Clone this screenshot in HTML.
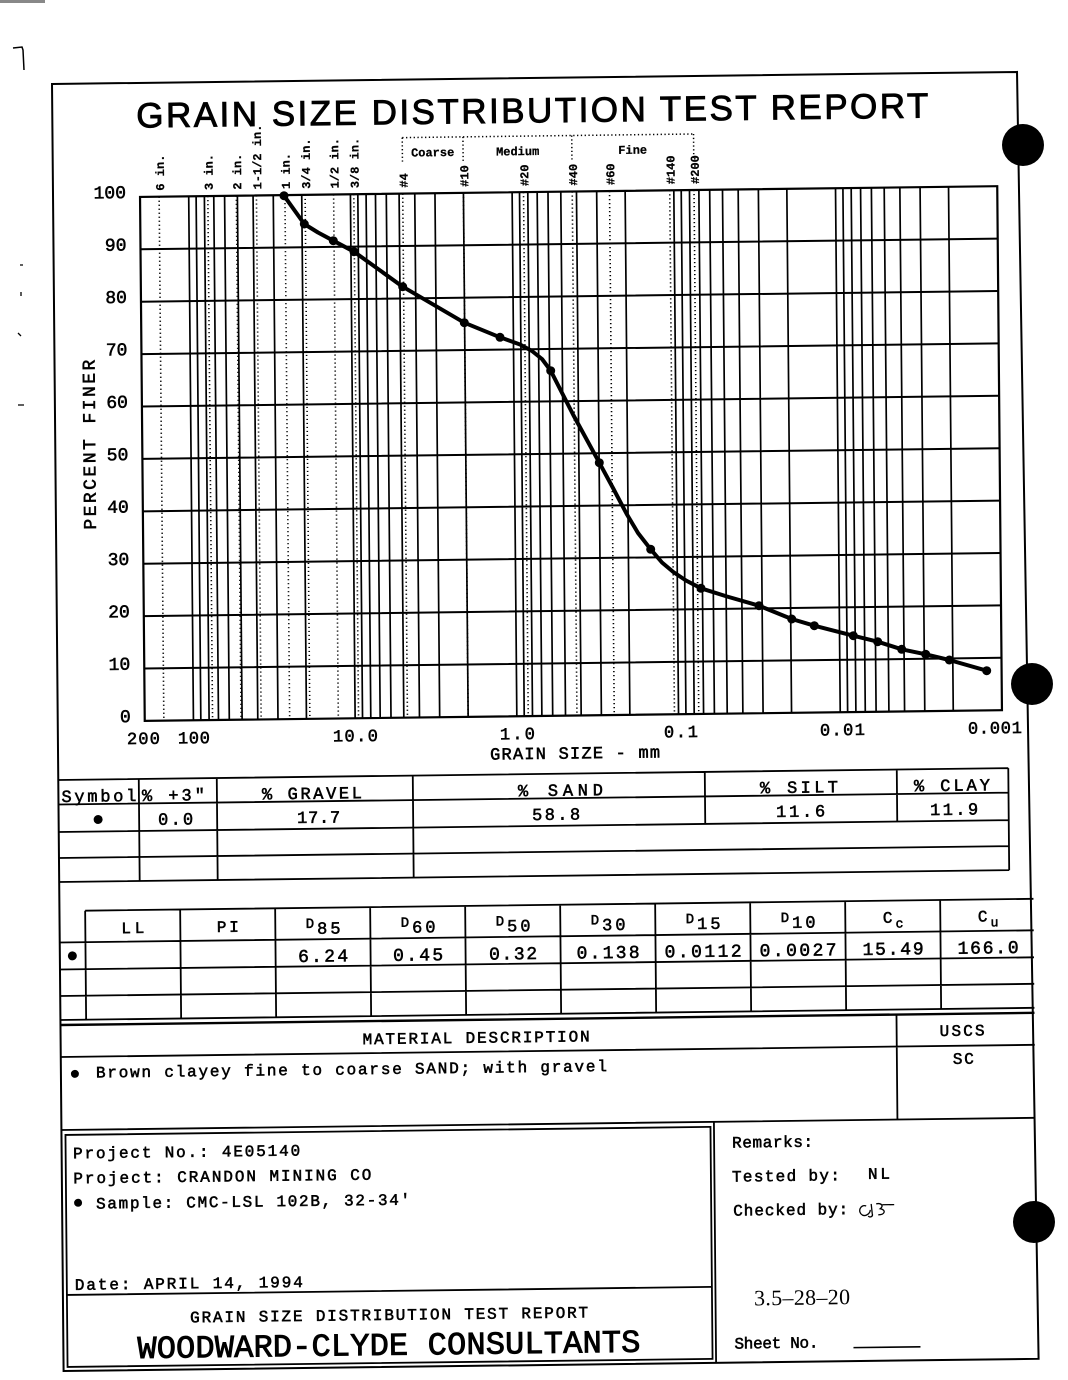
<!DOCTYPE html>
<html><head><meta charset="utf-8"><title>Grain Size Distribution Test Report</title>
<style>
html,body{margin:0;padding:0;background:#fff;}
svg{display:block;}
text{font-family:"Liberation Mono","DejaVu Sans Mono",monospace;fill:#000;stroke:#000;stroke-width:0.55px;}
.s{font-family:"Liberation Serif",serif;stroke-width:0;}
.t{font-family:"Liberation Sans",sans-serif;stroke-width:0.9px;}
.w{stroke-width:0.9px;}
.b text{stroke-width:0.25px;}
</style></head><body>
<svg width="1068" height="1380" viewBox="0 0 1068 1380" xmlns="http://www.w3.org/2000/svg">
<rect width="1068" height="1380" fill="#fff"/>
<rect x="0" y="0" width="45" height="3" fill="#888"/>
<!-- left margin marks -->
<path d="M13,48 L22,47 L23,50 L24,70" fill="none" stroke="#000" stroke-width="1.5"/>
<path d="M20,265 h3 M21,292 v4 M18,333 l3,3 M18,405 h6" stroke="#000" stroke-width="1.3" fill="none"/>

<g transform="matrix(1,-0.0125,0.009,1,-0.747,0.65)">
  <!-- outer border -->
  <polygon points="52,84 1017,84 1027,1371 52,1371" fill="none" stroke="#000" stroke-width="2"/>

  <!-- title -->
  <text class="t" x="136" y="128.5" font-size="35" textLength="792" lengthAdjust="spacing">GRAIN SIZE DISTRIBUTION TEST REPORT</text>

  <!-- Coarse / Medium / Fine header -->
  <path d="M401.7,142 H693 M401.7,142 V166 M462.4,142 V166 M571.2,142 V166 M693,142 V166" fill="none" stroke="#000" stroke-width="1.5" stroke-dasharray="1.3 2.5"/>
  <g class="b" font-size="12" font-weight="bold" text-anchor="middle">
    <text x="432" y="161">Coarse</text>
    <text x="517" y="161">Medium</text>
    <text x="632" y="161">Fine</text>
  </g>

  <!-- sieve labels (rotated) -->
  <g class="b" font-size="12" font-weight="bold">
    <text transform="translate(163.1,192) rotate(-90)">6 in.</text>
    <text transform="translate(211.8,192) rotate(-90)">3 in.</text>
    <text transform="translate(240.3,192) rotate(-90)">2 in.</text>
    <text transform="translate(260.4,192) rotate(-90)">1-1/2 in.</text>
    <text transform="translate(288.9,192) rotate(-90)">1 in.</text>
    <text transform="translate(309.1,192) rotate(-90)">3/4 in.</text>
    <text transform="translate(337.6,192) rotate(-90)">1/2 in.</text>
    <text transform="translate(357.8,192) rotate(-90)">3/8 in.</text>
    <text transform="translate(406.7,192) rotate(-90)">#4</text>
    <text transform="translate(467.4,192) rotate(-90)">#10</text>
    <text transform="translate(527.5,192) rotate(-90)">#20</text>
    <text transform="translate(576.2,192) rotate(-90)">#40</text>
    <text transform="translate(613.5,192) rotate(-90)">#60</text>
    <text transform="translate(673.7,192) rotate(-90)">#140</text>
    <text transform="translate(698,192) rotate(-90)">#200</text>
  </g>

  <!-- dotted sieve lines -->
  <path d="M158.1,198V722 M206.8,198V722 M235.3,198V722 M255.4,198V722 M283.9,198V722 M304.1,198V722 M332.6,198V722 M352.8,198V722 M401.7,198V722 M462.4,198V722 M522.5,198V722 M571.2,198V722 M608.5,198V722 M668.7,198V722 M693,198V722" stroke="#000" stroke-width="1.6" stroke-dasharray="1.2 2.8" fill="none"/>

  <!-- vertical solid grid -->
  <path d="M187.68,198V722 M195.08,198V722 M203.35,198V722 M212.73,198V722 M223.55,198V722 M236.36,198V722 M252.03,198V722 M272.23,198V722 M300.7,198V722 M349.38,198V722
  M356.78,198V722 M365.05,198V722 M374.43,198V722 M385.25,198V722 M398.06,198V722 M413.73,198V722 M433.93,198V722 M462.4,198V722 M511.08,198V722
  M518.48,198V722 M526.75,198V722 M536.13,198V722 M546.95,198V722 M559.76,198V722 M575.43,198V722 M595.63,198V722 M624.1,198V722 M672.78,198V722
  M680.18,198V722 M688.45,198V722 M697.83,198V722 M708.65,198V722 M721.46,198V722 M737.13,198V722 M757.33,198V722 M785.8,198V722 M834.48,198V722
  M841.88,198V722 M850.15,198V722 M859.53,198V722 M870.35,198V722 M883.16,198V722 M898.83,198V722 M919.03,198V722 M947.5,198V722" stroke="#000" stroke-width="1.7" fill="none"/>
  <!-- horizontal grid -->
  <path d="M139,250.4H996.2 M139,302.8H996.2 M139,355.2H996.2 M139,407.6H996.2 M139,460H996.2 M139,512.4H996.2 M139,564.8H996.2 M139,617.2H996.2 M139,669.6H996.2" stroke="#000" stroke-width="2" fill="none"/>
  <rect x="139" y="198" width="857.2" height="524" fill="none" stroke="#000" stroke-width="2.2"/>

  <!-- y axis labels -->
  <g font-size="18" text-anchor="end">
    <text x="125" y="199">100</text>
    <text x="125" y="251.4">90</text>
    <text x="125" y="303.8">80</text>
    <text x="125" y="356.2">70</text>
    <text x="125" y="408.6">60</text>
    <text x="125" y="461">50</text>
    <text x="125" y="513.4">40</text>
    <text x="125" y="565.8">30</text>
    <text x="125" y="618.2">20</text>
    <text x="125" y="670.6">10</text>
    <text x="125" y="723">0</text>
  </g>
  <text transform="translate(92,530) rotate(-90)" font-size="18" textLength="170" lengthAdjust="spacing">PERCENT FINER</text>

  <!-- x axis labels -->
  <g font-size="17" text-anchor="middle">
    <text x="137.5" y="745" textLength="33" lengthAdjust="spacing">200</text>
    <text x="188" y="745" textLength="32" lengthAdjust="spacing">100</text>
    <text x="349.5" y="745" textLength="45" lengthAdjust="spacing">10.0</text>
    <text x="511.5" y="745" textLength="35" lengthAdjust="spacing">1.0</text>
    <text x="675" y="745" textLength="34" lengthAdjust="spacing">0.1</text>
    <text x="836.5" y="745" textLength="45" lengthAdjust="spacing">0.01</text>
    <text x="989" y="745" textLength="54" lengthAdjust="spacing">0.001</text>
  </g>
  <text x="484" y="765" font-size="17" textLength="170" lengthAdjust="spacing">GRAIN SIZE - mm</text>

  <!-- Table 1 -->
  <path d="M52,780H1002 M52,804.5H1002 M52,832H1002 M52,858H1002 M52,882H1002
  M132.5,780V882 M210.5,780V882 M406.5,780V882 M698.5,780V832 M890.5,780V832 M1002,780V882" stroke="#000" stroke-width="1.8" fill="none"/>
  <g font-size="17">
    <text x="55" y="802" textLength="75" lengthAdjust="spacing">Symbol</text>
    <text x="135.5" y="802" textLength="63" lengthAdjust="spacing">% +3"</text>
    <text x="255.5" y="802" textLength="100" lengthAdjust="spacing">% GRAVEL</text>
    <text x="511.5" y="802" textLength="85" lengthAdjust="spacing">% SAND</text>
    <text x="753.5" y="802" textLength="78" lengthAdjust="spacing">% SILT</text>
    <text x="907.5" y="802" textLength="76" lengthAdjust="spacing">% CLAY</text>
    <text x="151.5" y="826" textLength="35" lengthAdjust="spacing">0.0</text>
    <text x="290.5" y="826" textLength="43" lengthAdjust="spacing">17.7</text>
    <text x="525.5" y="826" textLength="48" lengthAdjust="spacing">58.8</text>
    <text x="769.5" y="826" textLength="49" lengthAdjust="spacing">11.6</text>
    <text x="923.5" y="826" textLength="48" lengthAdjust="spacing">11.9</text>
  </g>
  <circle cx="91.5" cy="820" r="4.5" fill="#000"/>

  <!-- Table 2 -->
  <path d="M77.7,911H1026 M52,942.5H1026 M52,969.5H1026 M52,996H1026 M52,1020H1026
  M77.7,911V1020 M172.7,911V1020 M267.7,911V1020 M362.7,911V1020 M457.7,911V1020 M552.7,911V1020 M647.7,911V1020 M742.7,911V1020 M837.7,911V1020 M932.7,911V1020" stroke="#000" stroke-width="1.8" fill="none"/>
  <path d="M52,1025H1026" stroke="#000" stroke-width="2.4"/>
  <g font-size="16" text-anchor="middle">
    <text x="125.2" y="934" textLength="23" lengthAdjust="spacing">LL</text>
    <text x="220.2" y="934" textLength="22" lengthAdjust="spacing">PI</text>
  </g>
  <g font-size="14" text-anchor="middle" letter-spacing="3">
    <text x="317" y="931">D<tspan dy="6" font-size="17">85</tspan></text>
    <text x="412" y="931">D<tspan dy="6" font-size="17">60</tspan></text>
    <text x="507" y="931">D<tspan dy="6" font-size="17">50</tspan></text>
    <text x="602" y="931">D<tspan dy="6" font-size="17">30</tspan></text>
    <text x="697" y="931">D<tspan dy="6" font-size="17">15</tspan></text>
    <text x="792" y="931">D<tspan dy="6" font-size="17">10</tspan></text>
    <text x="887" y="933" font-size="16">C<tspan dy="5" font-size="13">c</tspan></text>
    <text x="982" y="933" font-size="16">C<tspan dy="5" font-size="13">u</tspan></text>
  </g>
  <g font-size="18" text-anchor="middle">
    <text x="315.2" y="965" textLength="50" lengthAdjust="spacing">6.24</text>
    <text x="410.2" y="965" textLength="50" lengthAdjust="spacing">0.45</text>
    <text x="505.2" y="965" textLength="48" lengthAdjust="spacing">0.32</text>
    <text x="600.2" y="965" textLength="63" lengthAdjust="spacing">0.138</text>
    <text x="695.2" y="965" textLength="77" lengthAdjust="spacing">0.0112</text>
    <text x="790.2" y="965" textLength="77" lengthAdjust="spacing">0.0027</text>
    <text x="885.2" y="965" textLength="61" lengthAdjust="spacing">15.49</text>
    <text x="980.2" y="965" textLength="61" lengthAdjust="spacing">166.0</text>
  </g>
  <circle cx="64.5" cy="956" r="4.5" fill="#000"/>

  <!-- Material description -->
  <path d="M52,1057H1026 M888,1025V1130 M52,1130H1026" stroke="#000" stroke-width="1.8" fill="none"/>
  <text x="354" y="1048" font-size="16" textLength="227" lengthAdjust="spacing">MATERIAL DESCRIPTION</text>
  <text x="931" y="1047" font-size="16" textLength="45" lengthAdjust="spacing">USCS</text>
  <circle cx="66" cy="1074" r="4" fill="#000"/>
  <text x="87" y="1078" font-size="16" textLength="511" lengthAdjust="spacing">Brown clayey fine to coarse SAND; with gravel</text>
  <text x="944" y="1075" font-size="16" textLength="21" lengthAdjust="spacing">SC</text>

  <!-- Project box -->
  <rect x="56" y="1135" width="645" height="232" fill="none" stroke="#000" stroke-width="1.8"/>
  <path d="M56,1295H701 M704.5,1130V1371" stroke="#000" stroke-width="1.8" fill="none"/>
  <g font-size="16">
    <text x="63.5" y="1158.5" textLength="227" lengthAdjust="spacing">Project No.: 4E05140</text>
    <text x="63.5" y="1183.5" textLength="298" lengthAdjust="spacing">Project: CRANDON MINING CO</text>
    <text x="86" y="1209" textLength="314" lengthAdjust="spacing">Sample: CMC-LSL 102B, 32-34'</text>
    <text x="64" y="1290" textLength="228" lengthAdjust="spacing">Date: APRIL 14, 1994</text>
    <text x="179" y="1324" textLength="398" lengthAdjust="spacing">GRAIN SIZE DISTRIBUTION TEST REPORT</text>
  </g>
  <circle cx="68" cy="1203" r="4" fill="#000"/>
  <text class="w" x="126" y="1359" font-size="32" textLength="503" lengthAdjust="spacing">WOODWARD-CLYDE CONSULTANTS</text>

  <!-- Remarks -->
  <g font-size="16">
    <text x="722.5" y="1156" textLength="81" lengthAdjust="spacing">Remarks:</text>
    <text x="722" y="1190" textLength="108" lengthAdjust="spacing">Tested by:</text>
    <text x="858" y="1189" textLength="22" lengthAdjust="spacing">NL</text>
    <text x="723" y="1224" textLength="115" lengthAdjust="spacing">Checked by:</text>
    <text x="723" y="1357" textLength="84" lengthAdjust="spacing">Sheet No.</text>
  </g>
  <path d="M856,1216 c-6,-2 -9,6 -4,9 c4,2 8,-2 8,-5 M861,1214 l1,10 c1,3 -3,4 -4,2 M866,1214 c5,-1 8,2 4,5 c6,1 5,6 -2,6 M872,1215 l12,0" fill="none" stroke="#000" stroke-width="1.3"/>
  <text class="s" x="743" y="1314" font-size="22" textLength="96" lengthAdjust="spacing">3.5–28–20</text>
  <path d="M842,1357.5H909" stroke="#000" stroke-width="1.6"/>
</g>

<!-- grain size curve (image coordinates) -->
<polyline fill="none" stroke="#000" stroke-width="4" stroke-linejoin="round" stroke-linecap="round"
 points="284,195.7 304.3,224 318,232.5 333.3,240.7 354,251.7 402.7,286.7 464.3,322.7 500,337.3 520,344.5 532,351 542,359 550.7,370.7 573.3,415 599.3,462.7 613,488 626.7,514 638,533 650.7,549.3 662,562.5 673.3,572 686,580.5 701,588.3 727,596.5 759,605.7 791.7,619 814.3,625.7 853.3,635.7 877.7,641.7 901.7,649.3 925.7,654.3 949.3,660 986.7,670.7"/>
<g fill="#000">
  <circle cx="284" cy="195.7" r="4.5"/><circle cx="304.3" cy="224" r="4.5"/>
  <circle cx="333.3" cy="240.7" r="4.5"/><circle cx="354" cy="251.7" r="4.5"/>
  <circle cx="402.7" cy="286.7" r="4.5"/><circle cx="464.3" cy="322.7" r="4.5"/>
  <circle cx="500" cy="337.3" r="4.5"/><circle cx="550.7" cy="370.7" r="4.5"/>
  <circle cx="599.3" cy="462.7" r="4.5"/><circle cx="650.7" cy="549.3" r="4.5"/>
  <circle cx="701" cy="588.3" r="4.5"/><circle cx="759" cy="605.7" r="4.5"/>
  <circle cx="791.7" cy="619" r="4.5"/><circle cx="814.3" cy="625.7" r="4.5"/>
  <circle cx="853.3" cy="635.7" r="4.5"/><circle cx="877.7" cy="641.7" r="4.5"/>
  <circle cx="901.7" cy="649.3" r="4.5"/><circle cx="925.7" cy="654.3" r="4.5"/>
  <circle cx="949.3" cy="660" r="4.5"/><circle cx="986.7" cy="670.7" r="4.5"/>
</g>

<!-- punch holes -->
<circle cx="1023" cy="145" r="21" fill="#000"/>
<circle cx="1032" cy="684" r="21" fill="#000"/>
<circle cx="1034" cy="1222" r="21" fill="#000"/>
</svg>
</body></html>
